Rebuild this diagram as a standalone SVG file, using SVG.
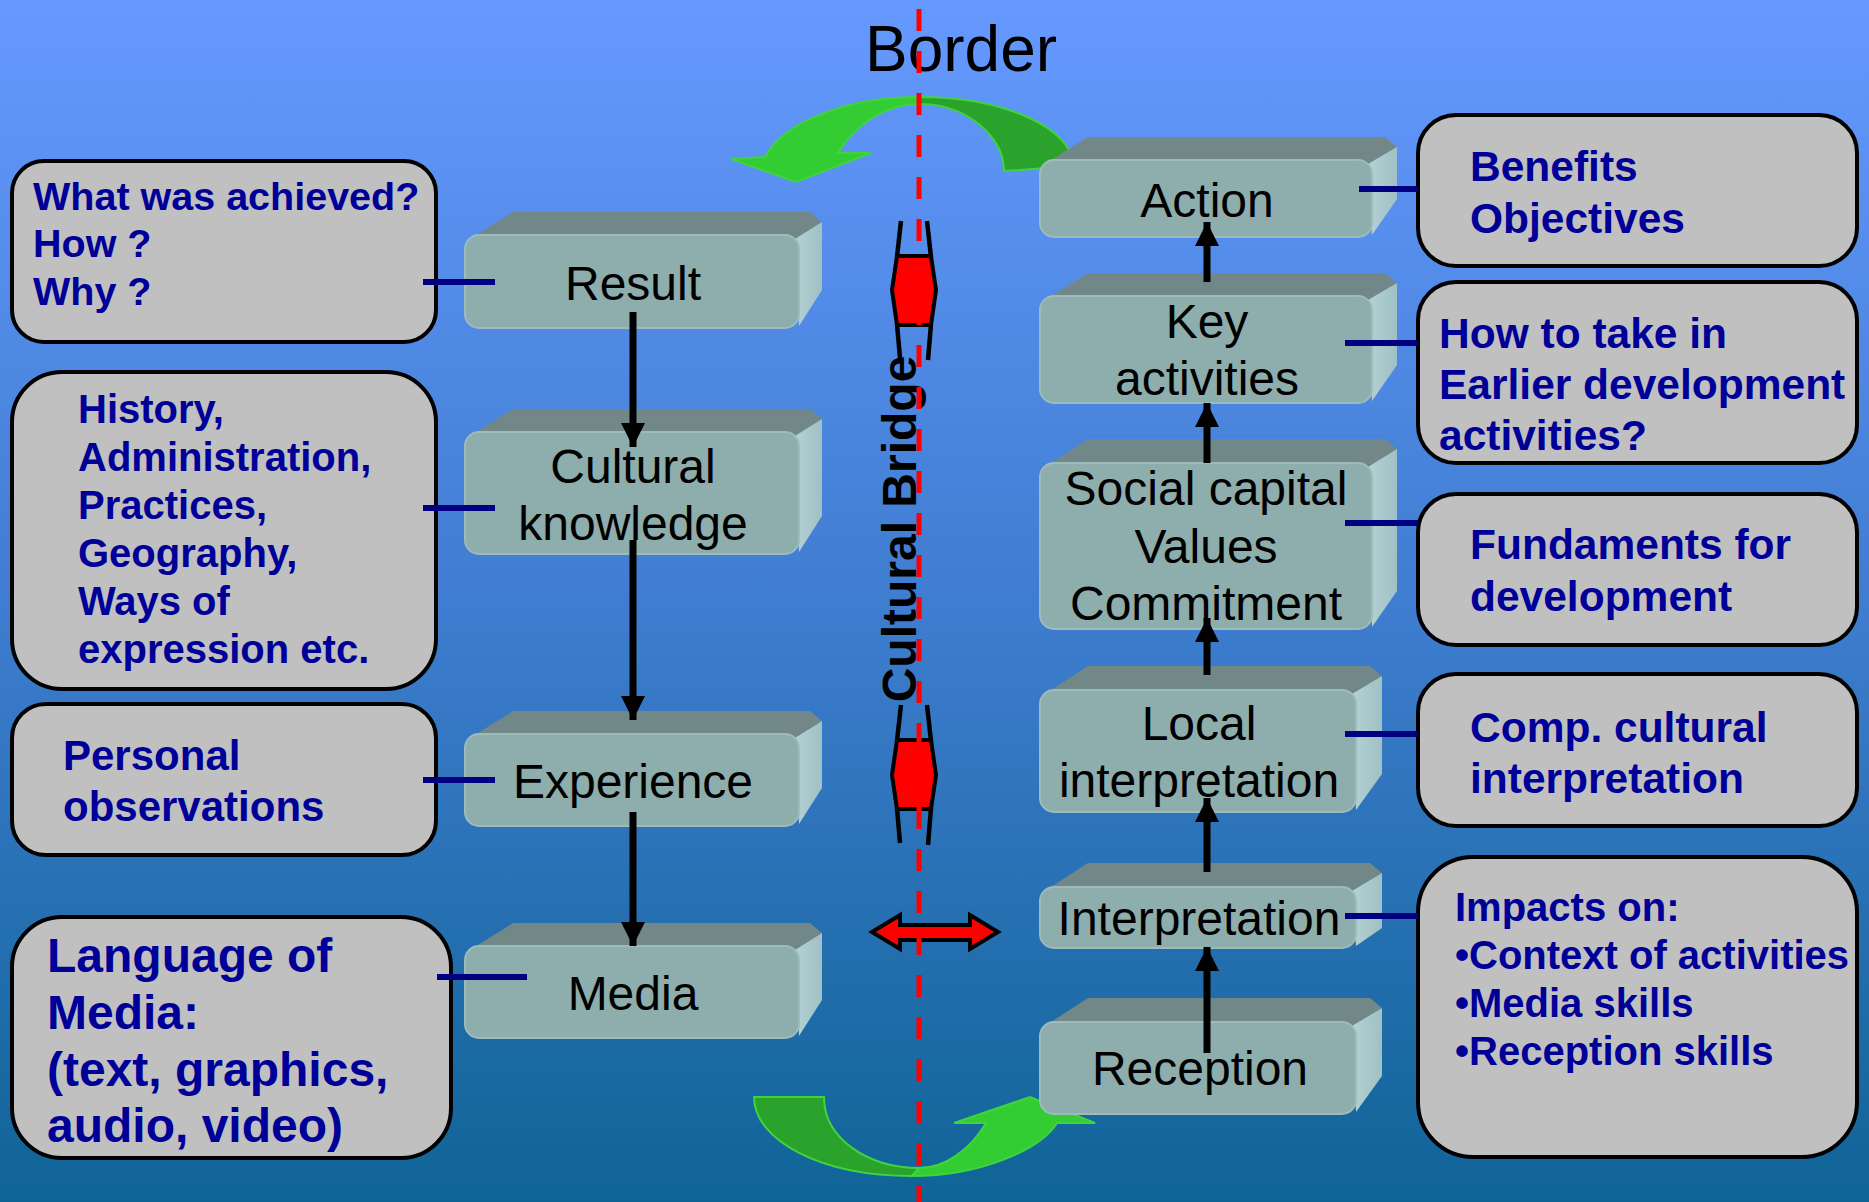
<svg xmlns="http://www.w3.org/2000/svg" width="1869" height="1202" viewBox="0 0 1869 1202">
<defs>
<linearGradient id="bg" x1="0" y1="0" x2="0" y2="1">
<stop offset="0" stop-color="#6699ff"/>
<stop offset="0.5" stop-color="#3f7dd0"/>
<stop offset="1" stop-color="#0f6496"/>
</linearGradient>
<linearGradient id="side" x1="0" y1="0" x2="1" y2="0">
<stop offset="0" stop-color="#b5d2d6"/>
<stop offset="1" stop-color="#9fc0c4"/>
</linearGradient>
<marker id="ah" markerUnits="userSpaceOnUse" viewBox="0 0 24 24" refX="24" refY="12" markerWidth="24" markerHeight="24" orient="auto">
<path d="M0,0 L24,12 L0,24 Z" fill="#000"/>
</marker>
</defs>
<style>
.top{fill:#728888}
.side{fill:url(#side)}
.front{fill:#8eadad;stroke:#9cbcbc;stroke-width:2}
.bl{font-family:"Liberation Sans",Arial,sans-serif;font-size:48px;fill:#000;text-anchor:middle}
.co{fill:#c0c0c0;stroke:#000;stroke-width:4}
.ct{font-family:"Liberation Sans",Arial,sans-serif;font-weight:bold;fill:#000099}
.flow{stroke:#000;stroke-width:7;fill:none;marker-end:url(#ah)}
.link{stroke:#000080;stroke-width:6;fill:none}
.gl{fill:#33cc33;stroke:#3fd43f;stroke-width:2}
.gd{fill:#2ba22b;stroke:#3fd43f;stroke-width:2}
.pil{fill:#ff0000;stroke:#000;stroke-width:4;stroke-linejoin:miter}
.pl{stroke:#000;stroke-width:4.5;fill:none}
</style>
<rect x="0" y="0" width="1869" height="1202" fill="url(#bg)"/>

<text x="961" y="71" font-family="Liberation Sans, Arial, sans-serif" font-size="64" text-anchor="middle" fill="#000">Border</text>

<!-- green curved arrows -->
<g id="arrow-top">
<path class="gd" d="M919,97 C1004,97 1073,128 1073,166 L1004,171 C1004,135 965,104 919,104 Z"/>
<path class="gl" d="M919,97 C850,97 785,120 765,157 L731,159 L796,182 L871,153 L838,153 C855,125 885,104 919,104 Z"/>
</g>
<g id="arrow-bottom">
<path class="gd" d="M754,1097 L824,1097 C824,1140 870,1168 919,1168 L912,1176 C820,1176 754,1140 754,1097 Z"/>
<path class="gl" d="M912,1176 C980,1176 1040,1150 1057,1123 L1095,1123 L1030,1097 L954,1123 L986,1123 C970,1150 945,1168 919,1168 Z"/>
</g>

<!-- bridge pillars -->
<g id="pillar-upper">
<path class="pl" d="M901,221 L897,257 M897,324 L900,358 M927,221 L931,257 M931,324 L928,360"/>
<polygon class="pil" points="897,256 931,256 936,290 931,325 897,325 892,290"/>
</g>
<g id="pillar-lower">
<path class="pl" d="M901,705 L897,741 M897,808 L900,843 M927,705 L931,741 M931,808 L928,845"/>
<polygon class="pil" points="897,740 931,740 936,775 931,809 897,809 892,775"/>
</g>
<g id="bridge-arrow">
<polygon fill="#ff0000" stroke="#000" stroke-width="4" stroke-linejoin="miter" points="872,932 900,915 900,925 970,925 970,915 998,932 970,949 970,940 900,940 900,949"/>
</g>
<text transform="translate(916,529) rotate(-90)" font-family="Liberation Sans, Arial, sans-serif" font-size="48" font-weight="bold" text-anchor="middle" fill="#000">Cultural Bridge</text>

<!-- left blocks -->
<g id="n-result">
<polygon class="top" points="473,237 513,212 810,212 822,222 797,239"/>
<polygon class="side" points="795,239 822,222 822,290 799,326"/>
<rect class="front" x="465" y="235" width="334" height="93" rx="14"/>
<text class="bl" x="633" y="300">Result</text>
</g>
<g id="n-cultural">
<polygon class="top" points="473,434 513,409 810,409 822,419 797,436"/>
<polygon class="side" points="795,436 822,419 822,516 799,552"/>
<rect class="front" x="465" y="432" width="334" height="122" rx="14"/>
<text class="bl" x="633" y="483">Cultural</text>
<text class="bl" x="633" y="540">knowledge</text>
</g>
<g id="n-experience">
<polygon class="top" points="473,736 513,711 810,711 822,721 797,738"/>
<polygon class="side" points="795,738 822,721 822,788 799,824"/>
<rect class="front" x="465" y="734" width="334" height="92" rx="14"/>
<text class="bl" x="633" y="798">Experience</text>
</g>
<g id="n-media">
<polygon class="top" points="473,948 513,923 810,923 822,933 797,950"/>
<polygon class="side" points="795,950 822,933 822,1000 799,1036"/>
<rect class="front" x="465" y="946" width="334" height="92" rx="14"/>
<text class="bl" x="633" y="1010">Media</text>
</g>

<!-- right blocks -->
<g id="n-action">
<polygon class="top" points="1048,162 1088,137 1385,137 1397,147 1370,164"/>
<polygon class="side" points="1368,164 1397,147 1397,199 1372,235"/>
<rect class="front" x="1040" y="160" width="332" height="77" rx="14"/>
<text class="bl" x="1207" y="217">Action</text>
</g>
<g id="n-key">
<polygon class="top" points="1048,298 1088,273 1385,273 1397,283 1370,300"/>
<polygon class="side" points="1368,300 1397,283 1397,365 1372,401"/>
<rect class="front" x="1040" y="296" width="332" height="107" rx="14"/>
<text class="bl" x="1207" y="338">Key</text>
<text class="bl" x="1207" y="395">activities</text>
</g>
<g id="n-social">
<polygon class="top" points="1048,465 1088,439 1385,439 1397,449 1370,467"/>
<polygon class="side" points="1368,467 1397,449 1397,591 1372,627"/>
<rect class="front" x="1040" y="463" width="332" height="166" rx="14"/>
<text class="bl" x="1206" y="505">Social capital</text>
<text class="bl" x="1206" y="563">Values</text>
<text class="bl" x="1206" y="620">Commitment</text>
</g>
<g id="n-local">
<polygon class="top" points="1048,692 1088,666 1370,666 1382,676 1354,694"/>
<polygon class="side" points="1352,694 1382,676 1382,774 1356,810"/>
<rect class="front" x="1040" y="690" width="316" height="122" rx="14"/>
<text class="bl" x="1199" y="740">Local</text>
<text class="bl" x="1199" y="797">interpretation</text>
</g>
<g id="n-interpretation">
<polygon class="top" points="1048,889 1088,863 1370,863 1382,873 1354,891"/>
<polygon class="side" points="1352,891 1382,873 1382,928 1356,946"/>
<rect class="front" x="1040" y="887" width="316" height="61" rx="14"/>
<text class="bl" x="1199" y="935">Interpretation</text>
</g>
<g id="n-reception">
<polygon class="top" points="1048,1024 1088,998 1370,998 1382,1008 1354,1026"/>
<polygon class="side" points="1352,1026 1382,1008 1382,1076 1356,1112"/>
<rect class="front" x="1040" y="1022" width="316" height="92" rx="14"/>
<text class="bl" x="1200" y="1085">Reception</text>
</g>

<!-- left callouts -->
<g id="c-what">
<rect class="co" x="12" y="161" width="424" height="181" rx="32"/>
<text class="ct" font-size="39.5"><tspan x="33" y="210">What was achieved?</tspan><tspan x="33" y="257">How ?</tspan><tspan x="33" y="305">Why ?</tspan></text>
</g>
<g id="c-history">
<rect class="co" x="12" y="372" width="424" height="317" rx="50"/>
<text class="ct" font-size="40"><tspan x="78" y="423">History,</tspan><tspan x="78" y="471">Administration,</tspan><tspan x="78" y="519">Practices,</tspan><tspan x="78" y="567">Geography,</tspan><tspan x="78" y="615">Ways of</tspan><tspan x="78" y="663">expression etc.</tspan></text>
</g>
<g id="c-personal">
<rect class="co" x="12" y="704" width="424" height="151" rx="34"/>
<text class="ct" font-size="42"><tspan x="63" y="770">Personal</tspan><tspan x="63" y="821">observations</tspan></text>
</g>
<g id="c-language">
<rect class="co" x="12" y="917" width="439" height="241" rx="50"/>
<text class="ct" font-size="48"><tspan x="47" y="972">Language of</tspan><tspan x="47" y="1029">Media:</tspan><tspan x="47" y="1086">(text, graphics,</tspan><tspan x="47" y="1142">audio, video)</tspan></text>
</g>

<!-- right callouts -->
<g id="c-benefits">
<rect class="co" x="1418" y="115" width="439" height="151" rx="38"/>
<text class="ct" font-size="42.5"><tspan x="1470" y="181">Benefits</tspan><tspan x="1470" y="233">Objectives</tspan></text>
</g>
<g id="c-howto">
<rect class="co" x="1418" y="282" width="439" height="181" rx="38"/>
<text class="ct" font-size="42.5"><tspan x="1439" y="348">How to take in</tspan><tspan x="1439" y="399">Earlier development</tspan><tspan x="1439" y="450">activities?</tspan></text>
</g>
<g id="c-fundaments">
<rect class="co" x="1418" y="494" width="439" height="151" rx="38"/>
<text class="ct" font-size="42.5"><tspan x="1470" y="559">Fundaments for</tspan><tspan x="1470" y="611">development</tspan></text>
</g>
<g id="c-comp">
<rect class="co" x="1418" y="674" width="439" height="152" rx="38"/>
<text class="ct" font-size="42.5"><tspan x="1470" y="742">Comp. cultural</tspan><tspan x="1470" y="793">interpretation</tspan></text>
</g>
<g id="c-impacts">
<rect class="co" x="1418" y="857" width="439" height="300" rx="55"/>
<text class="ct" font-size="40"><tspan x="1455" y="921">Impacts on:</tspan><tspan x="1455" y="969">•Context of activities</tspan><tspan x="1455" y="1017">•Media skills</tspan><tspan x="1455" y="1065">•Reception skills</tspan></text>
</g>

<!-- connectors -->
<g id="connectors">
<path class="flow" d="M633,312 L633,447"/>
<path class="flow" d="M633,540 L633,720"/>
<path class="flow" d="M633,812 L633,946"/>
<path class="flow" d="M1207,282 L1207,222"/>
<path class="flow" d="M1207,463 L1207,403"/>
<path class="flow" d="M1207,675 L1207,618"/>
<path class="flow" d="M1207,872 L1207,798"/>
<path class="flow" d="M1207,1053 L1207,947"/>
<path class="link" d="M423,282 L495,282"/>
<path class="link" d="M423,508 L495,508"/>
<path class="link" d="M423,780 L495,780"/>
<path class="link" d="M437,977 L527,977"/>
<path class="link" d="M1359,189 L1418,189"/>
<path class="link" d="M1345,343 L1418,343"/>
<path class="link" d="M1345,523 L1418,523"/>
<path class="link" d="M1345,734 L1418,734"/>
<path class="link" d="M1345,916 L1418,916"/>
</g>

<!-- border line -->
<line id="border-line" x1="919" y1="9" x2="919" y2="1202" stroke="#ff0000" stroke-width="5" stroke-dasharray="22 20"/>
</svg>
